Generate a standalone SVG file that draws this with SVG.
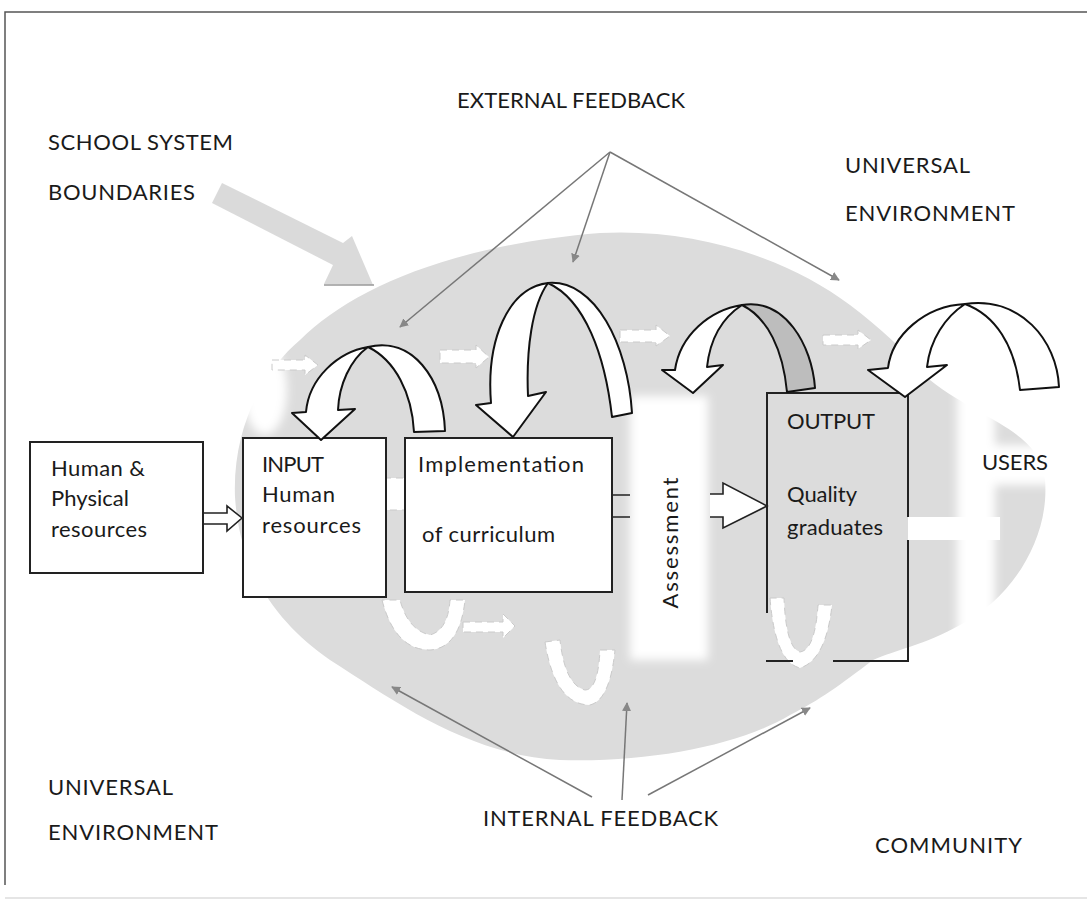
<svg xmlns="http://www.w3.org/2000/svg" width="1087" height="901" viewBox="0 0 1087 901">
<style>
.t{font-family:Lato,"Open Sans","Liberation Sans",sans-serif;font-size:22px;fill:#1a1a1a}
.box{fill:#fff;stroke:#222;stroke-width:2}
.ua{fill:#fff;stroke:#111;stroke-width:2;stroke-linejoin:round}
.fb{stroke:#777;stroke-width:1.5;fill:none;marker-end:url(#ah)}
.ghost{fill:#fff;stroke:#cacaca;stroke-width:1;stroke-dasharray:7 5}
</style>
<defs>
<marker id="ah" viewBox="0 0 10 10" refX="9" refY="5" markerWidth="9" markerHeight="9" markerUnits="userSpaceOnUse" orient="auto">
<path d="M0,0 L10,5 L0,10 Z" fill="#888"/>
</marker>
<filter id="blur" x="-30%" y="-30%" width="160%" height="160%"><feGaussianBlur stdDeviation="5"/></filter>
</defs>
<rect width="1087" height="901" fill="#fff"/>
<g id="frame">
<path d="M1087,12 H5 V885" fill="none" stroke="#555" stroke-width="1.5"/>
<line x1="5" y1="898" x2="1087" y2="898" stroke="#ccc" stroke-width="1.2"/>
</g>
<g id="system-boundary">
<path d="M235,497 C232,420 270,365 300,340 C350,290 450,245 600,233 C700,228 790,260 850,305 C880,328 905,350 930,380 C980,420 1040,430 1045,480 C1050,540 1010,600 960,625 C925,645 895,650 873,660 C840,685 820,700 790,715 C740,745 650,763 560,760 C470,755 400,705 330,660 C280,625 240,575 235,497 Z" fill="#dcdcdc"/>
<g filter="url(#blur)" fill="#fff">
<rect x="630" y="396" width="78" height="264"/>
<rect x="957" y="385" width="38" height="265"/>
<rect x="990" y="445" width="65" height="40"/>
<ellipse cx="265" cy="390" rx="22" ry="45"/>
</g>
</g>
<g id="ghost-arrows">
<path class="ghost" d="M272,360 H305 V355 L318,365 L305,375 V370 H272 Z"/>
<path class="ghost" d="M440,350 H476 V345 L489,357 L476,368 V363 H440 Z"/>
<path class="ghost" d="M620,330 H656 V325 L670,336 L656,346 V342 H620 Z"/>
<path class="ghost" d="M823,335 H858 V330 L871,340 L858,349 V345 H823 Z"/>
<path class="ghost" d="M463,622 H503 V614 L515,626 L503,638 V632 H463 Z"/>
<path class="ghost" d="M360,478 H420 V472 L437,497 L420,512 V510 H360 Z"/>
<path class="ghost" d="M382,600 Q395,650 430,650 Q460,648 465,600 L450,600 Q448,630 430,635 Q408,630 400,600 Z"/>
<path class="ghost" d="M545,642 Q555,705 590,705 Q610,700 615,650 L600,650 Q598,690 585,690 Q565,685 560,640 Z"/>
<path class="ghost" d="M770,598 Q775,662 800,668 Q826,660 832,605 L818,605 Q815,650 800,652 Q786,648 784,598 Z"/>
<path d="M908,517 L1000,517 L1000,540 L908,540 Z" fill="#fff"/>
</g>
<g id="connectors">
<path class="fb" d="M610,152 L400,327"/>
<path class="fb" d="M610,152 L573,262"/>
<path class="fb" d="M610,152 L839,280"/>
<path class="fb" d="M592,797 L392,687"/>
<path class="fb" d="M622,800 L627,703"/>
<path class="fb" d="M648,795 L810,708"/>
<path d="M222,183 L343,243 L352,236 L373,285 L324,284 L333,265 L212,203 Z" fill="#d6d6d6" opacity="0.9"/>
<line x1="324" y1="285" x2="374" y2="285" stroke="#999" stroke-width="1.4"/>
<path d="M183,513 H227 V506 L242,518 L227,531 V524 H183 Z" fill="#fff" stroke="#222" stroke-width="1.6"/>
<path d="M598,495 H630 M598,517 H630" stroke="#222" stroke-width="1.6"/>
<rect x="592" y="495" width="6" height="22" fill="#fff" stroke="#222" stroke-width="1.6"/>
<path d="M710,494 H723 V483 L767,506 L723,528 V517 H710" fill="#fff" stroke="#222" stroke-width="1.6"/>
</g>
<g id="node-resources">
<rect class="box" x="30" y="442" width="173" height="131"/>
<text class="t" x="51" y="476" textLength="94">Human &amp;</text>
<text class="t" x="51" y="506" textLength="78">Physical</text>
<text class="t" x="51" y="537" textLength="96">resources</text>
</g>
<g id="node-input">
<rect class="box" x="243" y="438" width="143" height="159"/>
<text class="t" x="262" y="472" textLength="62">INPUT</text>
<text class="t" x="262" y="502" textLength="73">Human</text>
<text class="t" x="262" y="533" textLength="99">resources</text>
</g>
<g id="node-implementation">
<rect class="box" x="405" y="438" width="207" height="154"/>
<text class="t" x="418" y="472" textLength="166">Implementation</text>
<text class="t" x="422" y="542" textLength="133">of curriculum</text>
</g>
<g id="node-assessment">
<text class="t" transform="translate(678,543) rotate(-90)" text-anchor="middle" textLength="131">Assessment</text>
</g>
<g id="node-output">
<path d="M908,517 V393 H767 V613 M767,660 V661 H793 M833,661 H908 V540" fill="none" stroke="#222" stroke-width="2"/>
<text class="t" x="787" y="429" textLength="88">OUTPUT</text>
<text class="t" x="787" y="502" textLength="70">Quality</text>
<text class="t" x="787" y="535" textLength="96">graduates</text>
</g>
<g id="node-users">
<text class="t" x="982" y="470" textLength="66">USERS</text>
</g>
<g id="loop-input">
<path class="ua" d="M368,347 C412,336 443,378 445,431 L414,432 C412,393 395,360 368,347 Z"/>
<path class="ua" d="M368,347 C338,352 309,378 306,412 L292,413 L321,440 L355,409 L338,410 C339,385 350,360 368,347 Z"/>
</g>
<g id="loop-implementation">
<path class="ua" d="M548,283 C595,279 628,345 632,413 L612,417 C605,355 585,300 548,283 Z"/>
<path class="ua" d="M548,283 C508,288 486,340 491,403 L476,405 L513,437 L546,392 L528,396 C526,350 532,305 548,283 Z"/>
</g>
<g id="loop-output">
<path class="ua" style="fill:#bdbdbd" d="M742,305 C785,298 812,345 815,388 L787,392 C783,350 768,318 742,305 Z"/>
<path class="ua" d="M742,305 C710,310 680,335 675,370 L662,370 L693,393 L723,365 L707,367 C710,340 722,318 742,305 Z"/>
</g>
<g id="loop-users">
<path class="ua" d="M965,304 C1020,296 1057,340 1059,387 L1020,390 C1015,345 995,315 965,304 Z"/>
<path class="ua" d="M965,304 C925,306 892,335 888,368 L868,370 L905,397 L947,365 L927,367 C930,340 945,317 965,304 Z"/>
</g>
<g id="labels">
<text class="t" x="457" y="108" textLength="228">EXTERNAL FEEDBACK</text>
<text class="t" x="48" y="150" textLength="185">SCHOOL SYSTEM</text>
<text class="t" x="48" y="200" textLength="147">BOUNDARIES</text>
<text class="t" x="845" y="173" textLength="125">UNIVERSAL</text>
<text class="t" x="845" y="221" textLength="170">ENVIRONMENT</text>
<text class="t" x="48" y="795" textLength="125">UNIVERSAL</text>
<text class="t" x="48" y="840" textLength="170">ENVIRONMENT</text>
<text class="t" x="483" y="826" textLength="235">INTERNAL FEEDBACK</text>
<text class="t" x="875" y="853" textLength="147">COMMUNITY</text>
</g>
</svg>
